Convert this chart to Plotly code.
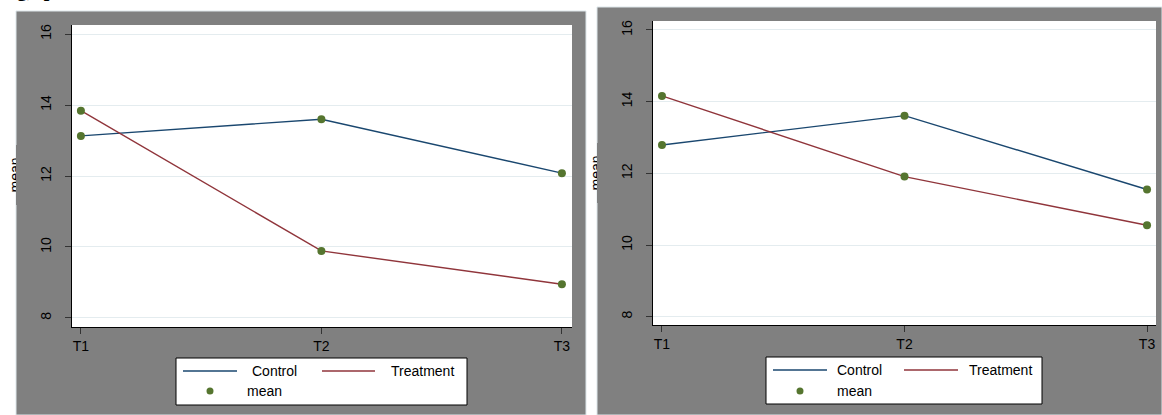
import plotly.graph_objects as go

W, H = 1162, 415

categories = ["T1", "T2", "T3"]
y_ticks = [8, 10, 12, 14, 16]

left_control = [13.13, 13.60, 12.08]
left_treatment = [13.84, 9.89, 8.95]
right_control = [12.79, 13.61, 11.55]
right_treatment = [14.16, 11.91, 10.55]

NAVY = "#1a476f"
MAROON = "#90353b"
GREEN = "#55752f"
GREY = "#808080"
GRID = "#e4ecef"
FONT = "Liberation Sans, Arial, sans-serif"


def px(x):
    return x / W


def py(y):
    return 1 - y / H


fig = go.Figure()

panels = [
    dict(ctrl=left_control, trt=left_treatment, xa="x", ya="y"),
    dict(ctrl=right_control, trt=right_treatment, xa="x2", ya="y2"),
]

for p in panels:
    fig.add_trace(go.Scatter(x=categories, y=p["ctrl"], mode="lines",
                             line=dict(color=NAVY, width=1.4), name="Control",
                             xaxis=p["xa"], yaxis=p["ya"], showlegend=False))
    fig.add_trace(go.Scatter(x=categories, y=p["trt"], mode="lines",
                             line=dict(color=MAROON, width=1.4), name="Treatment",
                             xaxis=p["xa"], yaxis=p["ya"], showlegend=False))
    fig.add_trace(go.Scatter(x=categories + categories, y=p["ctrl"] + p["trt"],
                             mode="markers", marker=dict(color=GREEN, size=8),
                             name="mean", xaxis=p["xa"], yaxis=p["ya"],
                             showlegend=False))

# geometry (pixels)
left_panel = (16, 11, 586, 415)
right_panel = (597, 7, 1162, 415)
left_plot = (72, 25, 572, 327)
right_plot = (653, 21, 1156, 325)

shapes = []
for (x0, y0, x1, y1) in (left_panel, right_panel):
    shapes.append(dict(type="rect", xref="paper", yref="paper", layer="below",
                       x0=px(x0), x1=px(x1), y0=py(y1), y1=py(y0),
                       fillcolor=GREY, line=dict(color="#dde6ea", width=1)))
for (x0, y0, x1, y1) in (left_plot, right_plot):
    shapes.append(dict(type="rect", xref="paper", yref="paper", layer="below",
                       x0=px(x0), x1=px(x1), y0=py(y1), y1=py(y0),
                       fillcolor="white", line=dict(width=0)))

axis_common = dict(showline=True, linecolor="black", linewidth=1, ticks="outside",
                   ticklen=6, tickwidth=1, tickcolor="#333333", zeroline=False,
                   tickfont=dict(family=FONT, size=14, color="black"))

fig.update_layout(
    xaxis=dict(domain=[px(72), px(572)], anchor="y", type="category",
               range=[-0.037, 2.042], showgrid=False, **axis_common),
    yaxis=dict(domain=[py(327), py(25)], anchor="x", range=[7.746, 16.254],
               tickvals=y_ticks, showgrid=True, gridcolor=GRID, gridwidth=1,
               tickangle=-90, ticklabelstandoff=8, **axis_common),
    xaxis2=dict(domain=[px(653), px(1156)], anchor="y2", type="category",
                range=[-0.037, 2.037], showgrid=False, **axis_common),
    yaxis2=dict(domain=[py(325), py(21)], anchor="x2", range=[7.768, 16.251],
                tickvals=y_ticks, showgrid=True, gridcolor=GRID, gridwidth=1,
                tickangle=-90, ticklabelstandoff=8, **axis_common),
)

annotations = []

# y axis titles (partly hidden behind the grey panels)
for xc, yc in ((14.5, 175), (595.5, 173)):
    annotations.append(dict(xref="paper", yref="paper", x=px(xc), y=py(yc),
                            text="mean", textangle=-90, showarrow=False,
                            font=dict(family=FONT, size=14, color="black"),
                            xanchor="center", yanchor="middle"))
for (x0, x1, yc) in ((16, 28, 175), (597, 609, 173)):
    annotations.append(dict(xref="paper", yref="paper", x=px(x0), y=py(yc),
                            text=".", showarrow=False, bgcolor=GREY,
                            font=dict(size=6, color=GREY),
                            width=x1 - x0, height=60, borderpad=0, borderwidth=0,
                            xanchor="left", yanchor="middle"))

# cut-off heading text at the top-left
annotations.append(dict(xref="paper", yref="paper", x=px(4), y=py(-1),
                        text="<b>ng), p</b>", showarrow=False,
                        font=dict(family="Liberation Serif, Times New Roman, serif",
                                  size=20, color="black"),
                        xanchor="left", yanchor="bottom", yshift=-4))

# legends
legends = [
    dict(box=(176, 358, 467, 405), r1=371, r2=391,
         ctrl=(183, 237, 250), trt=(322, 375, 389), dot=210, mean_x=245),
    dict(box=(766, 357, 1042, 404), r1=370, r2=391,
         ctrl=(773, 827, 835), trt=(904, 958, 967), dot=800, mean_x=835),
]
for lg in legends:
    bx0, by0, bx1, by1 = lg["box"]
    shapes.append(dict(type="rect", xref="paper", yref="paper",
                       x0=px(bx0), x1=px(bx1), y0=py(by1), y1=py(by0),
                       fillcolor="white", line=dict(color="black", width=1)))
    for (lx0, lx1, tx), col, label in ((lg["ctrl"], NAVY, "Control"),
                                       (lg["trt"], MAROON, "Treatment")):
        shapes.append(dict(type="line", xref="paper", yref="paper",
                           x0=px(lx0), x1=px(lx1), y0=py(lg["r1"]), y1=py(lg["r1"]),
                           line=dict(color=col, width=1.4)))
        annotations.append(dict(xref="paper", yref="paper", x=px(tx), y=py(lg["r1"]),
                                text=label, showarrow=False, xanchor="left",
                                yanchor="middle",
                                font=dict(family=FONT, size=14, color="black")))
    shapes.append(dict(type="circle", xref="paper", yref="paper",
                       x0=px(lg["dot"] - 3.5), x1=px(lg["dot"] + 3.5),
                       y0=py(lg["r2"] + 3.5), y1=py(lg["r2"] - 3.5),
                       fillcolor=GREEN, line=dict(width=0)))
    annotations.append(dict(xref="paper", yref="paper", x=px(lg["mean_x"]),
                            y=py(lg["r2"]), text="mean", showarrow=False,
                            xanchor="left", yanchor="middle",
                            font=dict(family=FONT, size=14, color="black")))

fig.update_layout(
    width=W, height=H, margin=dict(l=0, r=0, t=0, b=0),
    paper_bgcolor="white", plot_bgcolor="rgba(0,0,0,0)",
    shapes=shapes, annotations=annotations, showlegend=False,
    font=dict(family=FONT),
)

fig.write_html(
    "out.html",
    config={"displayModeBar": False},
    post_script="document.body.style.margin='0';document.body.style.overflow='hidden';",
)
